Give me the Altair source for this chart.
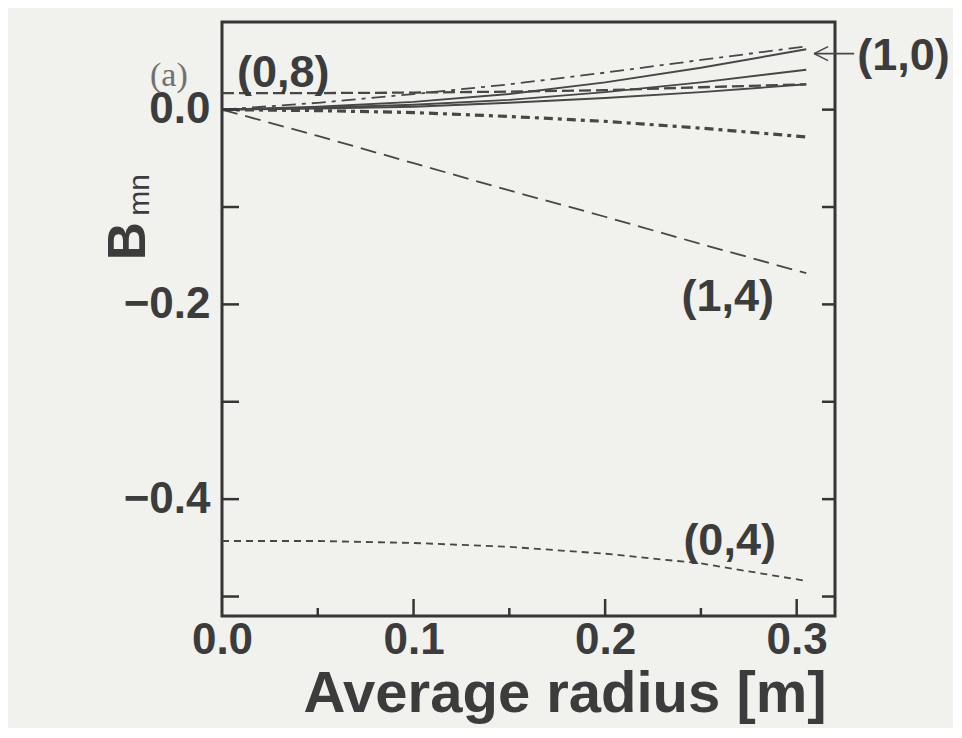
import altair as alt
import pandas as pd

# ---------------- data ----------------
radius = [0.0, 0.05, 0.10, 0.15, 0.20, 0.25, 0.305]

b_1_0 = [0.0, 0.007, 0.016, 0.026, 0.038, 0.051, 0.065]      # (1,0) dash-dot
b_0_8 = [0.017, 0.017, 0.0175, 0.0185, 0.020, 0.023, 0.026]  # (0,8) dashed
b_sol_a = [0.0, 0.003, 0.008, 0.016, 0.028, 0.043, 0.062]    # solid
b_sol_b = [0.0, 0.002, 0.005, 0.010, 0.018, 0.028, 0.041]    # solid
b_sol_c = [0.0, 0.001, 0.003, 0.007, 0.012, 0.018, 0.026]    # solid
b_dd = [0.0, -0.001, -0.003, -0.007, -0.012, -0.019, -0.028] # thick dash-dot
b_1_4 = [0.0, -0.027, -0.055, -0.083, -0.110, -0.138, -0.168]  # (1,4)
b_0_4 = [-0.443, -0.443, -0.445, -0.449, -0.456, -0.466, -0.484]  # (0,4)

x_label_values = [0.0, 0.1, 0.2, 0.3]
y_label_values = [0.0, -0.2, -0.4]
y_tick_values = [-0.5, -0.4, -0.3, -0.2, -0.1, 0.0]
x_major_ticks = [0.1, 0.2, 0.3]
x_minor_ticks = [0.05, 0.15, 0.25]

label_text = ["(0,8)", "(1,4)", "(0,4)"]
label_r = [0.032, 0.264, 0.265]
label_b = [0.0235, -0.2064, -0.4569]

arrow_label = ["(1,0)"]
arrow_label_r = [0.3316]
arrow_label_b = [0.0411]

# arrow pointing at the (1,0) curve end
arrow_r = [0.3091, 0.3091, 0.3091]
arrow_r2 = [0.3300, 0.3164, 0.3164]
arrow_b = [0.0575, 0.0575, 0.0575]
arrow_b2 = [0.0575, 0.0647, 0.0503]

# ---------------- styling ----------------
W, H = 613, 594
LINE = "#474747"
FRAME = "#353535"
TEXT = "#3c3c3c"
FONT = "Liberation Sans"

xs = alt.Scale(domain=[0, 0.32], nice=False, zero=False)
ys = alt.Scale(domain=[-0.52, 0.09], nice=False, zero=False)

xaxis = alt.Axis(values=x_label_values, format=".1f", ticks=False, domain=False,
                 grid=False, title=None, labelFont=FONT, labelFontSize=44,
                 labelFontWeight="bold", labelColor=TEXT, labelPadding=2,
                 labelFlush=False, labelOverlap=False)
yaxis = alt.Axis(values=y_label_values, format=".1f", ticks=False, domain=False,
                 grid=False, title=None, labelFont=FONT, labelFontSize=44,
                 labelFontWeight="bold", labelColor=TEXT, labelPadding=12,
                 labelFlush=False, labelOverlap=False)

X = lambda: alt.X("r:Q", scale=xs, axis=xaxis)
Y = lambda: alt.Y("B:Q", scale=ys, axis=yaxis)

curves = [
    ("(1,0)", b_1_0, dict(strokeDash=[14, 6, 4, 6], strokeWidth=1.8)),
    ("(0,8)", b_0_8, dict(strokeDash=[12, 5], strokeWidth=2.3)),
    ("sa", b_sol_a, dict(strokeWidth=1.9)),
    ("sb", b_sol_b, dict(strokeWidth=1.9)),
    ("sc", b_sol_c, dict(strokeWidth=1.9)),
    ("dd", b_dd, dict(strokeDash=[9, 5, 4, 5], strokeWidth=3.2)),
    ("(1,4)", b_1_4, dict(strokeDash=[16, 8], strokeWidth=1.8)),
    ("(0,4)", b_0_4, dict(strokeDash=[7, 5], strokeWidth=1.8)),
]

layers = []
for name, vals, style in curves:
    df = pd.DataFrame({"r": radius, "B": vals})
    layers.append(
        alt.Chart(df).mark_line(color=LINE, **style).encode(x=X(), y=Y())
    )

# inward ticks
yt = pd.DataFrame({"B": y_tick_values})
layers.append(alt.Chart(yt).mark_rule(color=FRAME, strokeWidth=2.5).encode(
    y=Y(), x=alt.value(0), x2=alt.value(17)))
layers.append(alt.Chart(yt).mark_rule(color=FRAME, strokeWidth=2.5).encode(
    y=Y(), x=alt.value(W - 13), x2=alt.value(W)))
layers.append(alt.Chart(pd.DataFrame({"r": x_major_ticks})).mark_rule(
    color=FRAME, strokeWidth=2.5).encode(x=X(), y=alt.value(H), y2=alt.value(H - 17)))
layers.append(alt.Chart(pd.DataFrame({"r": x_minor_ticks})).mark_rule(
    color=FRAME, strokeWidth=2.5).encode(x=X(), y=alt.value(H), y2=alt.value(H - 8)))

# curve labels
layers.append(alt.Chart(pd.DataFrame({"t": label_text, "r": label_r, "B": label_b}))
              .mark_text(font=FONT, fontSize=45, fontWeight="bold", color=TEXT,
                         align="center", baseline="alphabetic")
              .encode(x=X(), y=Y(), text="t:N"))
layers.append(alt.Chart(pd.DataFrame({"t": arrow_label, "r": arrow_label_r, "B": arrow_label_b}))
              .mark_text(font=FONT, fontSize=45, fontWeight="bold", color=TEXT,
                         align="left", baseline="alphabetic")
              .encode(x=X(), y=Y(), text="t:N"))
layers.append(alt.Chart(pd.DataFrame({"r": arrow_r, "r2": arrow_r2, "B": arrow_b, "B2": arrow_b2}))
              .mark_rule(color=LINE, strokeWidth=1.6)
              .encode(x=X(), x2="r2:Q", y=Y(), y2="B2:Q"))

one = pd.DataFrame({"k": [0]})
# axis titles and panel label
layers.append(alt.Chart(one).mark_text(text="Average radius [m]", font=FONT, fontSize=58,
                                       fontWeight="bold", color=TEXT, align="center",
                                       baseline="alphabetic")
              .encode(x=alt.value(343), y=alt.value(690)))
layers.append(alt.Chart(one).mark_text(text="B", font=FONT, fontSize=53, fontWeight="bold",
                                       color=TEXT, align="center", baseline="alphabetic",
                                       angle=270)
              .encode(x=alt.value(-77), y=alt.value(219)))
layers.append(alt.Chart(one).mark_text(text="mn", font=FONT, fontSize=30,
                                       color=TEXT, align="center", baseline="alphabetic",
                                       angle=270)
              .encode(x=alt.value(-73), y=alt.value(173)))
layers.append(alt.Chart(one).mark_text(text="(a)", font="Liberation Serif", fontSize=34,
                                       color="#707070", align="left", baseline="alphabetic")
              .encode(x=alt.value(-72), y=alt.value(64)))

chart = alt.layer(*layers).properties(
    width=W, height=H,
    padding={"left": 214, "top": 14, "right": 118, "bottom": 112},
    autosize=alt.AutoSizeParams(type="none"),
    background="#f1f1ee",
).configure_view(stroke=FRAME, strokeWidth=3)

chart.save("out.html", embed_options={"renderer": "svg", "actions": False})
